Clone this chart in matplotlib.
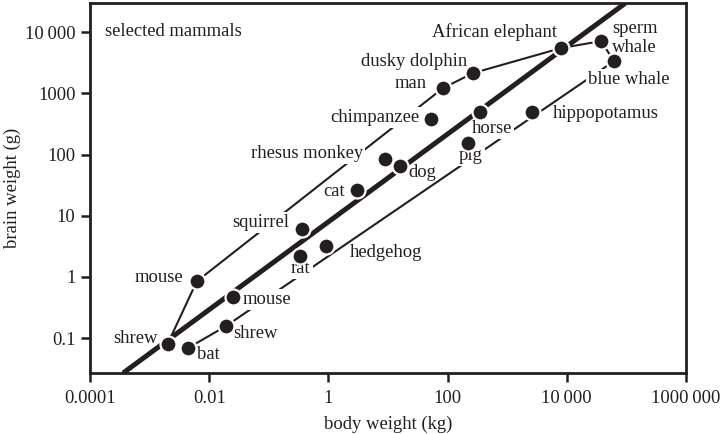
import numpy as np
import matplotlib
matplotlib.use("Agg")
import matplotlib.pyplot as plt

# brain vs body weight, selected mammals
names = ["shrew", "mouse", "bat", "mouse", "shrew", "squirrel", "rat", "hedgehog",
         "cat", "rhesus monkey", "dog", "chimpanzee", "man", "dusky dolphin", "pig",
         "horse", "hippopotamus", "African elephant", "sperm\nwhale", "blue whale"]
body_kg = [0.0020, 0.0062, 0.0044, 0.025, 0.019, 0.36, 0.33, 0.91,
           3.0, 8.9, 16, 53, 84, 267, 220,
           350, 2600, 8000, 37500, 62000]
brain_g = [0.080, 0.85, 0.069, 0.47, 0.157, 6.0, 2.2, 3.2,
           26, 84, 65, 380, 1220, 2140, 153,
           493, 493, 5480, 7130, 3360]

# outline joining the extreme species (indices into the lists above)
envelope = [2, 4, 19, 18, 17, 13, 12, 1, 0]

# regression line, end points
fit_body = [3.6e-4, 9.5e4]
fit_brain = [0.027, 29500]

x_ticks = [1e-4, 1e-2, 1, 1e2, 1e4, 1e6]
x_labels = ["0.0001", "0.01", "1", "100", "10\u2009000", "1000\u2009000"]
y_ticks = [0.1, 1, 10, 100, 1000, 10000]
y_labels = ["0.1", "1", "10", "100", "1000", "10\u2009000"]

# label layout: offset from the dot in pixels (dx, dy up), alignment, cut the lines?
label_layout = [
    (-10, 6, "right", False), (-14, 4, "right", False), (9, -6, "left", False),
    (10, -2, "left", True), (7, -7, "left", False), (-13, 7, "right", True),
    (1, -12, "center", True), (24, -6, "left", False), (-12, -1, "right", False),
    (-22, 6, "right", True), (8, -7, "left", False), (-12, 2, "right", True),
    (-16, 5, "right", False), (-6, 12, "right", False), (-9, -12, "left", True),
    (-8, -16, "left", True), (21, -1, "left", False), (-4, 16, "right", False),
    (11, 3, "left", False), (-26, -18, "left", True),
]

plt.rcParams['font.family'] = ['Liberation Serif', 'DejaVu Serif']
plt.rcParams['font.size'] = 13.4
ink = '#231f20'

fig = plt.figure(figsize=(7.21, 4.34), dpi=100)
ax = fig.add_axes([90 / 721, 1 - 373 / 434, 596 / 721, 370 / 434])
ax.set_xscale('log')
ax.set_yscale('log')
ax.set_xlim(1e-4, 1e6)
ax.set_ylim(0.027, 29900)

env_x = [body_kg[i] for i in envelope]
env_y = [brain_g[i] for i in envelope]
ax.plot(env_x, env_y, color=ink, lw=1.5, zorder=2, solid_capstyle='butt')
ax.plot(fit_body, fit_brain, color=ink, lw=3.6, zorder=4, solid_capstyle='butt')
ax.plot(body_kg, brain_g, 'o', ms=11.5, mfc=ink, mec='white', mew=1.6, zorder=5)

px = 0.72  # points per pixel at 100 dpi
for name, bx, by, (dx, dy, ha, cut) in zip(names, body_kg, brain_g, label_layout):
    box = dict(facecolor='white', edgecolor='none', pad=1.5) if cut else None
    ax.annotate(name, (bx, by), xytext=(dx * px, dy * px), textcoords='offset points',
                ha=ha, va='center', color=ink, bbox=box, zorder=3,
                linespacing=1.2, multialignment='left')

ax.text(0.025, 0.922, "selected mammals", transform=ax.transAxes,
        ha='left', va='center', color=ink)

ax.set_xticks(x_ticks)
ax.set_xticklabels(x_labels)
ax.set_yticks(y_ticks)
ax.set_yticklabels(y_labels)
ax.minorticks_off()
ax.tick_params(direction='out', length=6.5, width=1.8, color=ink, labelcolor=ink, pad=4)
ax.tick_params(axis='x', pad=6)
for s in ax.spines.values():
    s.set_linewidth(2)
    s.set_color(ink)

ax.set_xlabel("body weight (kg)", color=ink, labelpad=6)
ax.set_ylabel("brain weight (g)", color=ink, labelpad=3)

fig.savefig("out.png", dpi=100)
